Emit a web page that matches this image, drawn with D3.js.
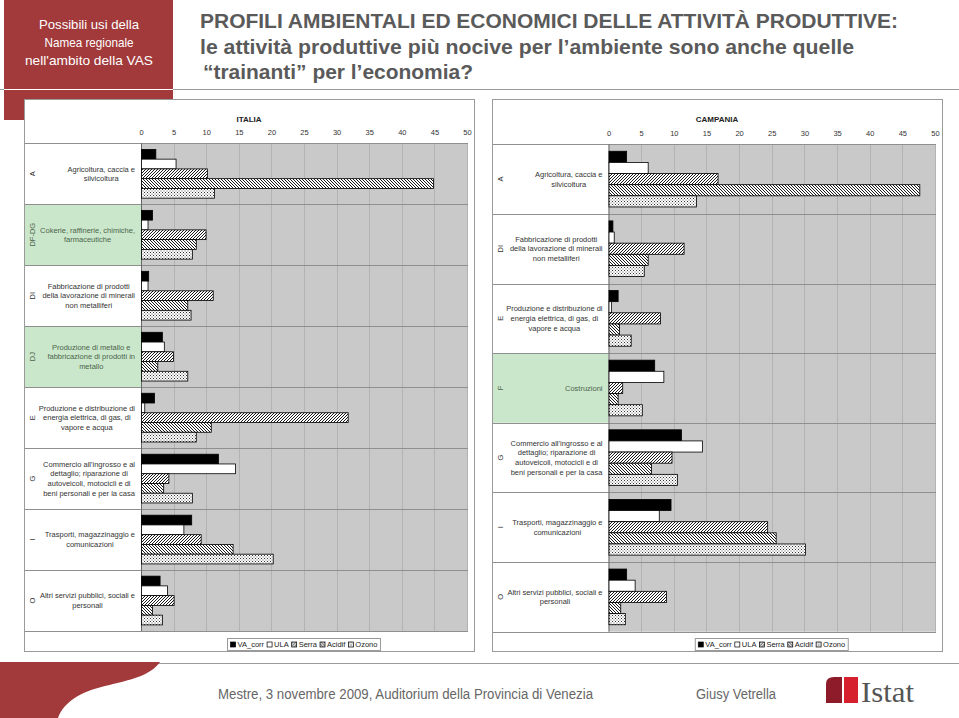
<!DOCTYPE html>
<html><head><meta charset="utf-8">
<script src="https://cdn.jsdelivr.net/npm/d3@7"></script>
<style>body{margin:0;background:#fff}svg{display:block}text{font-family:"Liberation Sans",Arial,sans-serif}</style>
</head><body>
<svg id="c" width="959" height="718"></svg>
<script>
// ---------- data ----------
const seriesNames = ["VA_corr","ULA","Serra","Acidif","Ozono"];
const tickValues = [0,5,10,15,20,25,30,35,40,45,50];

const italiaCodes = ["A","DF-DG","DI","DJ","E","G","I","O"];
const italiaLabels = [
  ["Agricoltura, caccia e","silvicoltura"],
  ["Cokerie, raffinerie, chimiche,","farmaceutiche"],
  ["Fabbricazione di prodotti","della lavorazione di minerali","non metalliferi"],
  ["Produzione di metallo e","fabbricazione di prodotti in","metallo"],
  ["Produzione e distribuzione di","energia elettrica, di gas, di","vapore e acqua"],
  ["Commercio all'ingrosso e al","dettaglio; riparazione di","autoveicoli, motocicli e di","beni personali e per la casa"],
  ["Trasporti, magazzinaggio e","comunicazioni"],
  ["Altri servizi pubblici, sociali e","personali"]
];
const italiaHighlight = ["DF-DG","DJ"];
const italiaVA     = [2.2, 1.7, 1.1, 3.2, 2.0, 11.8, 7.7, 2.85];
const italiaULA    = [5.3, 1.0, 1.0, 3.5, 0.5, 14.4, 6.5, 4.0];
const italiaSerra  = [10.1, 9.9, 11.0, 4.9, 31.7, 4.2, 9.15, 5.0];
const italiaAcidif = [44.8, 8.4, 7.1, 2.5, 10.7, 3.4, 14.05, 1.7];
const italiaOzono  = [11.2, 7.8, 7.6, 7.1, 8.4, 7.8, 20.2, 3.2];

const campaniaCodes = ["A","DI","E","F","G","I","O"];
const campaniaLabels = [
  ["Agricoltura, caccia e","silvicoltura"],
  ["Fabbricazione di prodotti","della lavorazione di minerali","non metalliferi"],
  ["Produzione e distribuzione di","energia elettrica, di gas, di","vapore e acqua"],
  ["Costruzioni"],
  ["Commercio all'ingrosso e al","dettaglio; riparazione di","autoveicoli, motocicli e di","beni personali e per la casa"],
  ["Trasporti, magazzinaggio e","comunicazioni"],
  ["Altri servizi pubblici, sociali e","personali"]
];
const campaniaHighlight = ["F"];
const campaniaVA     = [2.7, 0.6, 1.4, 7.0, 11.1, 9.5, 2.7];
const campaniaULA    = [6.0, 0.8, 0.4, 8.4, 14.3, 7.7, 4.0];
const campaniaSerra  = [16.7, 11.5, 7.9, 2.1, 9.65, 24.3, 8.8];
const campaniaAcidif = [47.6, 6.0, 1.6, 1.4, 6.5, 25.6, 1.8];
const campaniaOzono  = [13.4, 5.4, 3.4, 5.1, 10.5, 30.1, 2.5];

// ---------- drawing ----------
const svg = d3.select("#c");
const defs = svg.append("defs");
function hatch(id, d){
  const p = defs.append("pattern").attr("id",id).attr("patternUnits","userSpaceOnUse").attr("width",3).attr("height",3);
  p.append("rect").attr("width",3).attr("height",3).attr("fill","#fff");
  p.append("path").attr("d",d).attr("stroke","#000").attr("stroke-width",0.9);
}
hatch("serra","M-1,1 L1,-1 M0,3 L3,0 M2,4 L4,2");
hatch("acidif","M-1,2 L1,4 M0,0 L3,3 M2,-1 L4,1");
(function(){
  const p = defs.append("pattern").attr("id","ozono").attr("patternUnits","userSpaceOnUse").attr("width",3).attr("height",3);
  p.append("rect").attr("width",3).attr("height",3).attr("fill","#fff");
  p.append("rect").attr("x",0).attr("y",0).attr("width",1).attr("height",1).attr("fill","#333");
  p.append("rect").attr("x",1.5).attr("y",1.5).attr("width",1).attr("height",1).attr("fill","#555");
})();
const seriesFill = {VA_corr:"#000", ULA:"#fff", Serra:"url(#serra)", Acidif:"url(#acidif)", Ozono:"url(#ozono)"};

// header
svg.append("rect").attr("x",4).attr("y",0).attr("width",169).attr("height",120).attr("fill","#a23a3b");
svg.append("line").attr("x1",0).attr("x2",959).attr("y1",89.5).attr("y2",89.5).attr("stroke","#9a9a9a").attr("stroke-width",1);
svg.append("line").attr("x1",4).attr("x2",173).attr("y1",89.5).attr("y2",89.5).attr("stroke","#fff").attr("stroke-width",1.2);
const side = ["Possibili usi della","Namea regionale","nell'ambito della VAS"];
const sideW = [100, 89, 128];
side.forEach((t,i)=>{
  svg.append("text").attr("x",89).attr("y",29+i*18).attr("text-anchor","middle")
    .attr("font-size",13).attr("fill","#fff").style("font-family","'Liberation Sans Narrow','Liberation Sans',Arial")
    .attr("textLength",sideW[i]).attr("lengthAdjust","spacingAndGlyphs").text(t);
});
const titleLines = ["PROFILI AMBIENTALI ED ECONOMICI DELLE ATTIVITÀ PRODUTTIVE:",
  "le attività produttive più nocive per l\u2019ambiente sono anche quelle",
  "\u201Ctrainanti\u201D per l\u2019economia?"];
const titleX = [200,200,203], titleY=[28,54,79], titleW=[698,654,270];
titleLines.forEach((t,i)=>{
  svg.append("text").attr("x",titleX[i]).attr("y",titleY[i]).attr("font-size",21).attr("font-weight","bold")
    .attr("fill","#5a5a5a").style("font-family","'Liberation Sans Narrow','Liberation Sans',Arial")
    .attr("textLength",titleW[i]).attr("lengthAdjust","spacingAndGlyphs").text(t);
});

function drawPanel(cfg){
  const g = svg.append("g");
  // frame
  g.append("rect").attr("x",cfg.frame[0]+0.5).attr("y",99.5).attr("width",cfg.frame[1]-cfg.frame[0]).attr("height",552)
    .attr("fill","#fff").attr("stroke","#9a9a9a");
  const x = d3.scaleLinear().domain([0,50]).range([cfg.x0, cfg.x1]);
  const y = d3.scaleBand().domain(cfg.codes).range([cfg.top, cfg.bottom]).padding(0);
  const ys = d3.scaleBand().domain(seriesNames).range([0, y.bandwidth()]).paddingInner(0).paddingOuter(0.625);
  // highlighted label cells
  g.selectAll("rect.hl").data(cfg.codes.filter(c=>cfg.highlight.includes(c))).join("rect")
    .attr("x",cfg.frame[0]+1).attr("y",d=>y(d)).attr("width",cfg.x0-cfg.frame[0]-1).attr("height",y.bandwidth())
    .attr("fill","#cbe7cb");
  // plot background
  g.append("rect").attr("x",cfg.x0).attr("y",cfg.top).attr("width",cfg.x1-cfg.x0+1).attr("height",cfg.bottom-cfg.top).attr("fill","#c9c9c9");
  // vertical gridlines
  g.selectAll("line.vg").data(tickValues.slice(1)).join("line")
    .attr("x1",d=>Math.round(x(d))+0.5).attr("x2",d=>Math.round(x(d))+0.5).attr("y1",cfg.top).attr("y2",cfg.bottom)
    .attr("stroke","#b3b3b3").attr("stroke-width",1);
  // category separators
  const seps = cfg.codes.map(c=>y(c)).concat([cfg.bottom]);
  g.selectAll("line.hs").data(seps).join("line")
    .attr("x1",cfg.frame[0]+1).attr("x2",cfg.x1+1).attr("y1",d=>Math.round(d)+0.5).attr("y2",d=>Math.round(d)+0.5)
    .attr("stroke","#8f8f8f").attr("stroke-width",1);
  // axis line
  g.append("line").attr("x1",cfg.x0+0.5).attr("x2",cfg.x0+0.5).attr("y1",cfg.top).attr("y2",cfg.bottom).attr("stroke","#666");
  // bars
  seriesNames.forEach((s,si)=>{
    g.selectAll("rect.b"+si).data(cfg.codes.map((c,i)=>({c, v:cfg.values[si][i]}))).join("rect")
      .attr("x",x(0)+0.5).attr("y",d=>y(d.c)+ys(s)).attr("width",d=>Math.max(0,x(d.v)-x(0)))
      .attr("height",ys.bandwidth()).attr("fill",seriesFill[s]).attr("stroke","#000").attr("stroke-width",0.8);
  });
  // axis ticks
  const ax = g.append("g").attr("transform",`translate(0,${cfg.top})`)
    .call(d3.axisTop(x).tickValues(tickValues).tickSize(0).tickPadding(8));
  ax.select(".domain").remove();
  ax.selectAll("text").attr("font-size",7.5).attr("fill","#333").style("font-family","'Liberation Sans',Arial");
  // title
  g.append("text").attr("x",(cfg.frame[0]+cfg.frame[1])/2).attr("y",122).attr("text-anchor","middle")
    .attr("font-size",8).attr("font-weight","bold").attr("fill","#222").text(cfg.title);
  // category labels
  cfg.codes.forEach((c,i)=>{
    const cy = y(c)+y.bandwidth()/2;
    const hl = cfg.highlight.includes(c);
    const col = hl ? "#4b654b" : "#333";
    g.append("text").attr("transform",`translate(${cfg.frame[0]+8},${cy}) rotate(-90)`)
      .attr("text-anchor","middle").attr("dy","0.35em").attr("font-size",7.5).attr("fill",col).text(c);
    const lines = cfg.labels[i];
    const lg = g.append("g");
    const ts = lines.map((l,j)=> lg.append("text").attr("y", cy - (lines.length-1)/2*9.7 + j*9.7).attr("dy","0.35em")
      .attr("text-anchor","middle").attr("font-size",7.5).attr("fill",col).text(l));
    const maxW = d3.max(ts, t=>t.node().getComputedTextLength());
    ts.forEach(t=>t.attr("x", cfg.x0-6-maxW/2));
  });
  // legend
  const lgd = g.append("g");
  const box = lgd.append("rect").attr("fill","#fff").attr("stroke","#999");
  let cx = 0;
  seriesNames.forEach(s=>{
    lgd.append("rect").attr("x",cx).attr("y",-2.5).attr("width",5).attr("height",5).attr("fill",seriesFill[s]).attr("stroke","#000").attr("stroke-width",0.7);
    cx += 7;
    const t = lgd.append("text").attr("x",cx).attr("y",0).attr("dy","0.35em").attr("font-size",7.5).attr("fill","#222").text(s);
    cx += t.node().getComputedTextLength() + 3;
  });
  cx -= 3;
  box.attr("x",-3).attr("y",-6).attr("width",cx+6).attr("height",12);
  const cxMid = (cfg.x0+cfg.x1)/2;
  lgd.attr("transform",`translate(${cxMid-cx/2},644.5)`);
}

drawPanel({title:"ITALIA", frame:[24,474], x0:141, x1:467, top:143.3, bottom:631, codes:italiaCodes, labels:italiaLabels,
  highlight:italiaHighlight, values:[italiaVA,italiaULA,italiaSerra,italiaAcidif,italiaOzono]});
drawPanel({title:"CAMPANIA", frame:[492,942], x0:608.5, x1:935, top:144.3, bottom:631.7, codes:campaniaCodes, labels:campaniaLabels,
  highlight:campaniaHighlight, values:[campaniaVA,campaniaULA,campaniaSerra,campaniaAcidif,campaniaOzono]});

// footer
svg.append("line").attr("x1",0).attr("x2",959).attr("y1",663.5).attr("y2",663.5).attr("stroke","#9a9a9a").attr("stroke-width",1.2);
svg.append("path").attr("d","M0,662 L160,662 C150,676 130,680 105,686 C80,692 64,702 58,718 L0,718 Z").attr("fill","#a23a3b");
svg.append("text").attr("x",218).attr("y",699).attr("font-size",14).attr("fill","#666")
  .style("font-family","'Liberation Sans Narrow','Liberation Sans',Arial").attr("textLength",375).attr("lengthAdjust","spacingAndGlyphs")
  .text("Mestre, 3 novembre 2009, Auditorium della Provincia di Venezia");
svg.append("text").attr("x",696).attr("y",699).attr("font-size",14).attr("fill","#666")
  .style("font-family","'Liberation Sans Narrow','Liberation Sans',Arial").attr("textLength",80).attr("lengthAdjust","spacingAndGlyphs")
  .text("Giusy Vetrella");
svg.append("path").attr("d","M826,703 L826,684 Q826,677 834,677 L842,677 L842,703 Z").attr("fill","#8e1b2a");
svg.append("path").attr("d","M844,677 L858,677 L858,703 L844,703 Z").attr("fill","#d6202e");
svg.append("text").attr("x",861).attr("y",702).attr("font-size",29).attr("fill","#555")
  .style("font-family","'Liberation Serif','DejaVu Serif',serif").attr("textLength",53).attr("lengthAdjust","spacingAndGlyphs").text("Istat");
</script>
</body></html>
